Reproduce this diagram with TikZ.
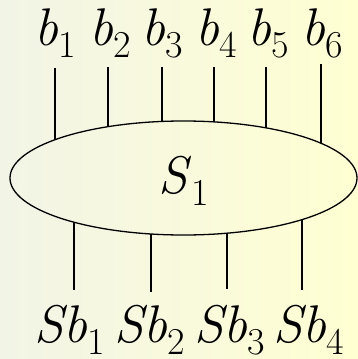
\documentclass[tikz,border=0pt]{standalone}
\usetikzlibrary{shapes.geometric}

\definecolor{bgleft}{RGB}{242,244,230}
\definecolor{bgright}{RGB}{255,255,210}

\newcommand{\sublab}[2]{\textit{#1}\raisebox{-12pt}{\fontsize{38}{38}\selectfont #2}}

\tikzset{
  lab/.style={anchor=base,inner sep=0pt,font=\fontsize{53}{53}\selectfont},
  leg/.style={line width=1.3pt}
}

\begin{document}
\begin{tikzpicture}[x=1pt,y=1pt,yscale=-1]
% background
\shade [left color=bgleft,right color=bgright] (0,0) rectangle (358,359);
\useasboundingbox (0,0) rectangle (358,359);

% Ellipse
\node [draw,ellipse,line width=1.3pt,minimum width=347pt,minimum height=114pt,inner sep=0pt] (S) at (183.5,178) {};
% Text Node
\node [lab] (Slab) at (184,193) {\sublab{S}{1}};

% top legs
\foreach \x/\y/\n in {55/68/1,108/67/2,162/67/3,214/67/4,266/67/5,321/64/6}{
  \pgfmathsetmacro\yy{178-57*sqrt(1-((\x-183.5)/173.5)^2)}
  \coordinate (t\n) at (\x,\y);
  \coordinate (te\n) at (\x,\yy);
  \draw [leg] (t\n) -- (te\n);
}
% bottom legs
\foreach \x/\y/\n in {74/290/1,151/292/2,227/289/3,302/290/4}{
  \pgfmathsetmacro\yy{178+57*sqrt(1-((\x-183.5)/173.5)^2)}
  \coordinate (be\n) at (\x,\yy);
  \coordinate (b\n) at (\x,\y);
  \draw [leg] (be\n) -- (b\n);
}

% Text Node
\node [lab] (in1) at (55,45) {\sublab{b}{1}};
\node [lab] (in2) at (110,45) {\sublab{b}{2}};
\node [lab] (in3) at (162.5,45) {\sublab{b}{3}};
\node [lab] (in4) at (216.5,45) {\sublab{b}{4}};
\node [lab] (in5) at (268.5,45) {\sublab{b}{5}};
\node [lab] (in6) at (322.5,45) {\sublab{b}{6}};
% Text Node
\node [lab] (out1) at (70,342) {\sublab{Sb}{1}};
\node [lab] (out2) at (150,342) {\sublab{Sb}{2}};
\node [lab] (out3) at (230,342) {\sublab{Sb}{3}};
\node [lab] (out4) at (309,342) {\sublab{Sb}{4}};

\end{tikzpicture}
\end{document}
